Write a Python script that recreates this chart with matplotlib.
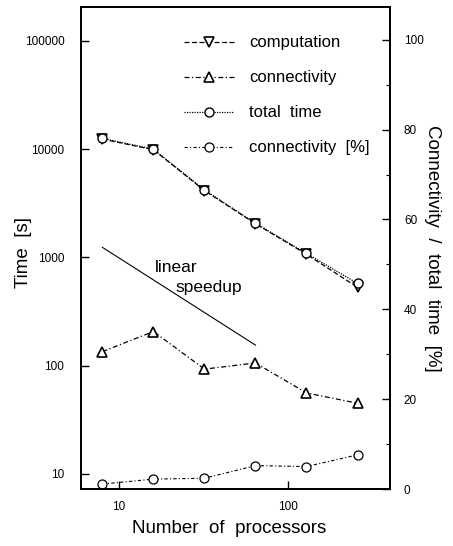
import matplotlib
matplotlib.use('Agg')
import matplotlib.pyplot as plt
import matplotlib.ticker as mticker

plt.rcParams['font.family'] = ['Liberation Sans', 'DejaVu Sans']

# ── Data ───────────────────────────────────────────────────────────────────────
procs        = [8, 16, 32, 64, 128, 256]
computation  = [12400, 9900, 4150, 2050, 1070, 530]
connectivity = [135, 207, 93, 106, 56, 45]
total_time   = [12600, 10000, 4200, 2070, 1090, 575]
conn_pct     = [1.1, 2.2, 2.4, 5.2, 5.0, 7.6]

speedup_x = [8, 64]
speedup_y = [1240, 155]

# ── Figure ─────────────────────────────────────────────────────────────────────
fig = plt.figure(figsize=(4.53, 5.46), dpi=100)
ax  = fig.add_axes([81/453, 1 - 489/546, 309/453, 482/546])
ax2 = ax.twinx()

ms = 6.5
h1, = ax.plot(procs, computation, color='black', lw=0.9, ls=(0, (4, 2)),
              marker='v', ms=ms, mfc='white', mec='black', mew=1.2,
              label='computation')
h2, = ax.plot(procs, connectivity, color='black', lw=0.9, ls=(0, (4, 2, 1, 2)),
              marker='^', ms=ms, mfc='white', mec='black', mew=1.2,
              label='connectivity')
h3, = ax.plot(procs, total_time, color='black', lw=0.9, ls=(0, (1, 1)),
              marker='o', ms=ms, mfc='white', mec='black', mew=1.0,
              label='total  time')
h4, = ax2.plot(procs, conn_pct, color='black', lw=0.8, ls=(0, (3, 2, 1, 2)),
               marker='o', ms=ms, mfc='white', mec='black', mew=0.9,
               label='connectivity  [%]')

ax.plot(speedup_x, speedup_y, color='black', lw=0.8)
ax.text(21.9, 807, 'linear', fontsize=12.5, ha='center', va='center')
ax.text(33.9, 527, 'speedup', fontsize=12.5, ha='center', va='center')

# ── Axes ───────────────────────────────────────────────────────────────────────
ax.set_xscale('log')
ax.set_yscale('log')
ax.set_xlim(5.98, 398)
ax.set_ylim(7.26, 206000)
ax2.set_ylim(0, 107.3)

ax.set_xticks([10, 100])
ax.set_xticklabels(['10', '100'])
ax.xaxis.set_minor_locator(mticker.NullLocator())
ax.set_yticks([10, 100, 1000, 10000, 100000])
ax.set_yticklabels(['10', '100', '1000', '10000', '100000'])
ax.yaxis.set_minor_locator(mticker.NullLocator())
ax2.set_yticks([0, 20, 40, 60, 80, 100])
ax2.yaxis.set_minor_locator(mticker.MultipleLocator(10))

ax.tick_params(axis='both', which='major', direction='in', length=6,
               width=1.0, labelsize=8.5)
ax.tick_params(axis='y', pad=12)
ax.tick_params(axis='x', pad=9)
ax2.tick_params(axis='y', which='major', direction='in', length=6,
                width=1.0, labelsize=8.5, pad=10)
ax2.tick_params(axis='y', which='minor', direction='in', length=3, width=0.8)

for a in (ax, ax2):
    for s in a.spines.values():
        s.set_linewidth(1.4)

ax.set_xlabel('Number  of  processors', fontsize=13.5)
ax.xaxis.set_label_coords(0.48, -0.065)
ax.set_ylabel('Time  [s]', fontsize=13.5)
ax.yaxis.set_label_coords(-0.16, 0.49)
ax2.set_ylabel('Connectivity  /  total  time  [%]', fontsize=13.5,
               rotation=270, va='center')
ax2.yaxis.set_label_coords(1.137, 0.50)

ax.legend(handles=[h1, h2, h3, h4], loc='upper left',
          bbox_to_anchor=(0.285, 0.972), frameon=False, fontsize=12,
          handlelength=3.0, handletextpad=0.9, labelspacing=1.2)

fig.savefig('out.png', dpi=100)
